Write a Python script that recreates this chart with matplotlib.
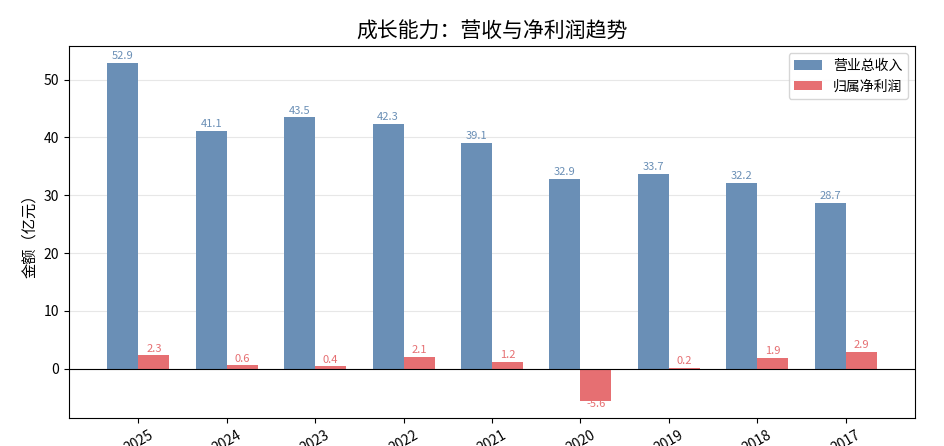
import numpy as np
import matplotlib
matplotlib.use('Agg')
import matplotlib.pyplot as plt

plt.rcParams['font.family'] = ['Noto Sans CJK SC', 'DejaVu Sans']
plt.rcParams['axes.unicode_minus'] = False

# 数据
years = ['2025', '2024', '2023', '2022', '2021', '2020', '2019', '2018', '2017']
revenue = [52.9, 41.1, 43.5, 42.3, 39.1, 32.9, 33.7, 32.2, 28.7]
net_profit = [2.3, 0.6, 0.4, 2.1, 1.2, -5.6, 0.2, 1.9, 2.9]

blue = '#6a8fb6'
red = '#e66f72'
w = 0.35
x = np.arange(len(years))

fig = plt.figure(figsize=(9.45, 4.46), dpi=100)
ax = fig.add_axes([69/945, 28/446, 846/945, 372/446])

b1 = ax.bar(x - w/2, revenue, w, color=blue, label='营业总收入', zorder=2)
b2 = ax.bar(x + w/2, net_profit, w, color=red, label='归属净利润', zorder=2)

for xi, v in zip(x - w/2, revenue):
    ax.text(xi, v + 0.3, f'{v:.1f}', ha='center', va='bottom', fontsize=8, color=blue)
for xi, v in zip(x + w/2, net_profit):
    if v >= 0:
        ax.text(xi, v + 0.3, f'{v:.1f}', ha='center', va='bottom', fontsize=8, color=red)
    else:
        ax.text(xi, v + 0.4, f'{v:.1f}', ha='center', va='top', fontsize=8, color=red)

ax.axhline(0, color='black', linewidth=0.8, zorder=3)
ax.set_xticks(x)
ax.set_xticklabels(years, rotation=30)
ax.set_ylabel('金额（亿元）', fontsize=11)
ax.set_title('成长能力：营收与净利润趋势', fontsize=15)
ax.grid(axis='y', alpha=0.3, zorder=0)
ax.legend(loc='upper right', fontsize=10)

fig.savefig('out.png', dpi=100)
